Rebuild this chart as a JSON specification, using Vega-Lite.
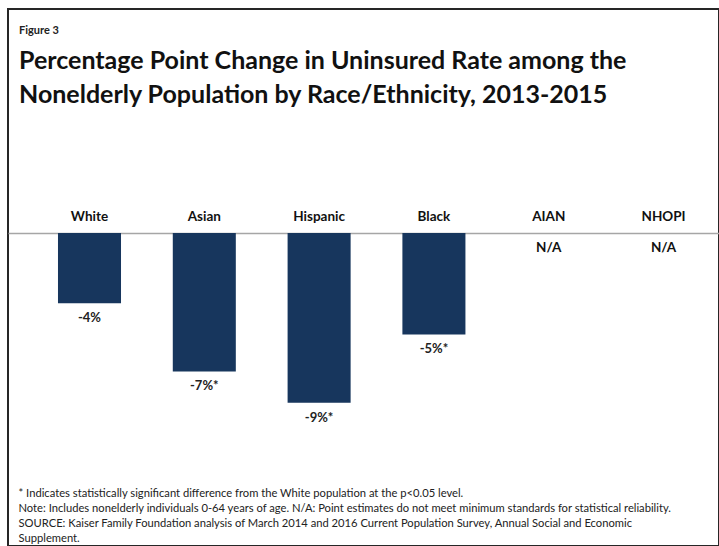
{
  "$schema": "https://vega.github.io/schema/vega-lite/v6.json",
  "width": 711,
  "height": 537,
  "autosize": {"type": "none"},
  "padding": {"left": 8, "top": 9, "right": 0, "bottom": 0},
  "background": "white",
  "config": {
    "view": {"stroke": "#262626", "strokeWidth": 2},
    "font": "Lato"
  },
  "title": {
    "text": "Figure 3",
    "subtitle": [
      "Percentage Point Change in Uninsured Rate among the",
      "Nonelderly Population by Race/Ethnicity, 2013-2015"
    ],
    "anchor": "start",
    "frame": "group",
    "offset": -99,
    "dx": 11,
    "font": "Lato",
    "fontSize": 11,
    "fontWeight": "bold",
    "color": "#222222",
    "subtitleFont": "Lato",
    "subtitleFontSize": 25,
    "subtitleFontWeight": "bold",
    "subtitleColor": "#111111",
    "subtitleLineHeight": 34,
    "subtitlePadding": 13
  },
  "data": {
    "values": [
      {"group": "White", "change": -3.6, "label": "-4%"},
      {"group": "Asian", "change": -7.1, "label": "-7%*"},
      {"group": "Hispanic", "change": -8.7, "label": "-9%*"},
      {"group": "Black", "change": -5.2, "label": "-5%*"},
      {"group": "AIAN", "change": null, "label": "N/A"},
      {"group": "NHOPI", "change": null, "label": "N/A"}
    ]
  },
  "encoding": {
    "x": {
      "field": "group",
      "type": "nominal",
      "sort": null,
      "scale": {"paddingInner": 0.451, "paddingOuter": 0.322, "align": 0.676},
      "axis": {
        "orient": "bottom",
        "labels": false,
        "ticks": false,
        "domain": false,
        "grid": false,
        "title": [
          "* Indicates statistically significant difference from the White population at the p<0.05 level.",
          "Note: Includes nonelderly individuals 0-64 years of age. N/A: Point estimates do not meet minimum standards for statistical reliability.",
          "SOURCE: Kaiser Family Foundation analysis of March 2014 and 2016 Current Population Survey, Annual Social and Economic",
          "Supplement."
        ],
        "titleFont": "Lato",
        "titleFontSize": 11.2,
        "titleFontWeight": "normal",
        "titleColor": "#222222",
        "titleAlign": "left",
        "titleBaseline": "top",
        "titleLineHeight": 15,
        "titleX": 10,
        "titleY": -59
      }
    }
  },
  "layer": [
    {
      "mark": {"type": "bar", "color": "#17365d"},
      "encoding": {
        "y": {
          "field": "change",
          "type": "quantitative",
          "scale": {"domain": [-16.05, 11.49], "nice": false},
          "axis": {
            "values": [0],
            "grid": true,
            "gridColor": "#a6a6a6",
            "gridWidth": 1.5,
            "labels": false,
            "ticks": false,
            "domain": false,
            "title": null
          }
        }
      }
    },
    {
      "transform": [{"filter": "datum.change != null"}],
      "mark": {"type": "text", "baseline": "middle", "dy": 15, "font": "Lato", "fontSize": 13, "fontWeight": "bold", "color": "#222222"},
      "encoding": {
        "y": {"field": "change", "type": "quantitative"},
        "text": {"field": "label"}
      }
    },
    {
      "mark": {"type": "text", "baseline": "middle", "dy": -16, "font": "Lato", "fontSize": 13.5, "fontWeight": "bold", "color": "#111111"},
      "encoding": {
        "y": {"datum": 0},
        "text": {"field": "group"}
      }
    },
    {
      "transform": [{"filter": "datum.change == null"}],
      "mark": {"type": "text", "baseline": "middle", "dy": 15, "font": "Lato", "fontSize": 13.5, "fontWeight": "bold", "color": "#111111"},
      "encoding": {
        "y": {"datum": 0},
        "text": {"field": "label"}
      }
    }
  ]
}
